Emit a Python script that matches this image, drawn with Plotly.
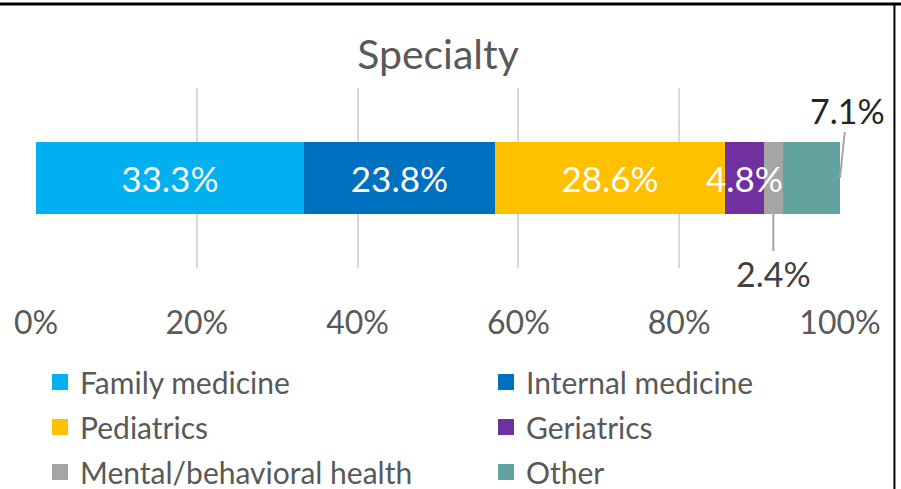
import plotly.graph_objects as go

# ─────────────────────────────────────────────
# Data
# ─────────────────────────────────────────────

CATEGORY = ["Specialty"]
SPECIALTIES = [
    "Family medicine",
    "Internal medicine",
    "Pediatrics",
    "Geriatrics",
    "Mental/behavioral health",
    "Other",
]
SHARES = [33.3, 23.8, 28.6, 4.8, 2.4, 7.1]
COLORS = ["#00B0F0", "#0070C0", "#FFC000", "#7030A0", "#A5A5A5", "#63A39F"]
TICKS = [0, 20, 40, 60, 80, 100]

FONT = "Lato, Noto Sans, sans-serif"
TEXT_GREY = "#595959"

fig = go.Figure()

# ── Stacked bars ──────────────────────────
inside = {"Family medicine", "Internal medicine", "Pediatrics"}
for name, val, col in zip(SPECIALTIES, SHARES, COLORS):
    fig.add_trace(go.Bar(
        x=[val], y=CATEGORY, orientation="h",
        name=name, marker=dict(color=col, line=dict(width=0)),
        text=[f"{val:.1f}%"] if name in inside else None,
        textposition="inside" if name in inside else "none",
        insidetextanchor="middle", textangle=0,
        constraintext="none",
        textfont=dict(family=FONT, size=35, color="white"),
        showlegend=False, hoverinfo="x+name",
    ))

# ── Legend entries (square markers), two columns ──
# Excel fills the legend row by row: left column = even indices
for i, (name, col) in enumerate(zip(SPECIALTIES, COLORS)):
    fig.add_trace(go.Scatter(
        x=[None], y=[None], mode="markers", name=name,
        legend="legend" if i % 2 == 0 else "legend2",
        legendgroup=name,
        marker=dict(symbol="square", size=16, color=col),
    ))

# ── Labels for narrow segments ────────────
cum = 0
ends = []
for v in SHARES:
    cum += v
    ends.append(cum)

# Geriatrics label spills over its neighbour, so draw it on top
ge = SPECIALTIES.index("Geriatrics")
fig.add_annotation(
    x=ends[ge] - SHARES[ge] / 2, y=0, xref="x", yref="y",
    text=f"{SHARES[ge]:.1f}%", showarrow=False,
    font=dict(family=FONT, size=35, color="white"),
)
mh = SPECIALTIES.index("Mental/behavioral health")
fig.add_annotation(
    x=ends[mh] - SHARES[mh] / 2, y=-0.2, xref="x", yref="y",
    text=f"{SHARES[mh]:.1f}%", showarrow=True, arrowhead=0,
    arrowcolor="#A6A6A6", arrowwidth=2, ax=0, ay=59, standoff=0,
    font=dict(family=FONT, size=34, color="#404040"),
)
ot = SPECIALTIES.index("Other")
fig.add_annotation(
    x=ends[ot], y=0, xref="x", yref="y",
    text=f"{SHARES[ot]:.1f}%", showarrow=True, arrowhead=0,
    arrowcolor="#A6A6A6", arrowwidth=2, ax=7, ay=-68, standoff=0,
    font=dict(family=FONT, size=34, color="#262626"),
)

# ── Cell border (top + right) ─────────────
fig.add_shape(type="line", xref="paper", yref="paper",
              x0=-0.05, x1=1.08, y0=1.467, y1=1.467,
              line=dict(color="black", width=3))
fig.add_shape(type="line", xref="paper", yref="paper",
              x0=1.0677, x1=1.0677, y0=-1.3, y1=1.467,
              line=dict(color="black", width=2))

legend_style = dict(
    orientation="v", xanchor="left", yanchor="top", y=-0.489,
    font=dict(family=FONT, size=30, color=TEXT_GREY),
    itemsizing="trace", tracegroupgap=3,
    bgcolor="rgba(0,0,0,0)",
)

fig.update_layout(
    width=901, height=489,
    barmode="stack", bargap=0.6,
    plot_bgcolor="white", paper_bgcolor="white",
    margin=dict(l=36, r=61, t=88, b=221, autoexpand=False),
    font=dict(family=FONT, color=TEXT_GREY),
    title=dict(text="Specialty", x=0.5, xref="paper", xanchor="center",
               y=1 - 55 / 489, yanchor="middle",
               font=dict(family=FONT, size=41, color=TEXT_GREY)),
    xaxis=dict(
        range=[0, 100], tickvals=TICKS,
        ticktext=[f"{t}%" for t in TICKS],
        showgrid=True, gridcolor="#D9D9D9", gridwidth=2,
        zeroline=False, showline=False, ticks="",
        tickfont=dict(family=FONT, size=32, color=TEXT_GREY),
        ticklabelstandoff=33,
    ),
    yaxis=dict(showticklabels=False, showgrid=False, zeroline=False,
               range=[-0.5, 0.5]),
    legend=dict(x=0.005, **legend_style),
    legend2=dict(x=0.5597, **legend_style),
    showlegend=True,
)

fig.write_html(
    "out.html",
    config={"displayModeBar": False},
    post_script="document.body.style.margin='0';",
)
